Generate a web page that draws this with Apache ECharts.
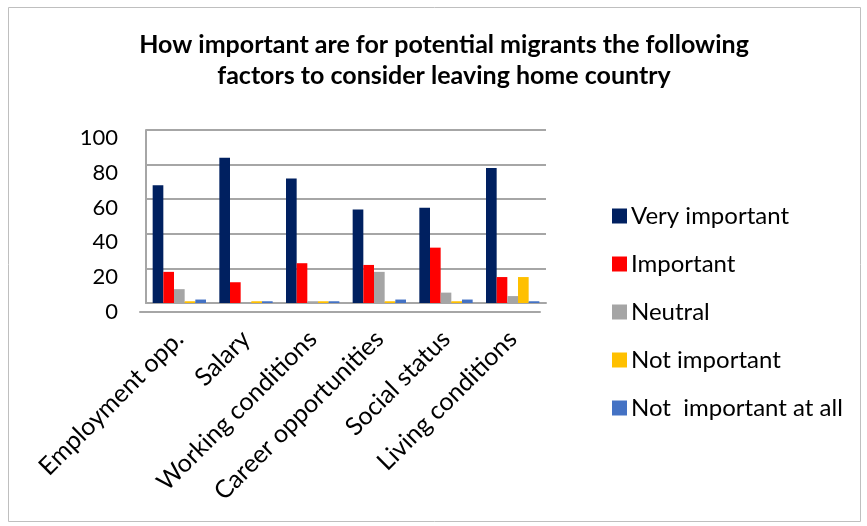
<!DOCTYPE html>
<html><head><meta charset="utf-8">
<script src="https://cdn.jsdelivr.net/npm/echarts@6/dist/echarts.min.js"></script>
<style>html,body{margin:0;padding:0;background:#fff}#c{width:867px;height:526px}</style>
</head><body><div id="c"></div>
<script>
const categories = ['Employment opp.', 'Salary', 'Working conditions', 'Career opportunities', 'Social status', 'Living conditions'];
const veryImportant = [68, 84, 72, 54, 55, 78];
const important = [18, 12, 23, 22, 32, 15];
const neutral = [8, 0.5, 1, 18, 6, 4];
const notImportant = [1, 1, 1, 1, 1, 15];
const notImportantAtAll = [2, 1, 1, 2, 2, 1];
const yTicks = [0, 20, 40, 60, 80, 100];

const seriesNames = ['Very important', 'Important', 'Neutral', 'Not important', 'Not  important at all'];
const seriesData = [veryImportant, important, neutral, notImportant, notImportantAtAll];
const colors = ['#002060', '#FF0000', '#A5A5A5', '#FFC000', '#4472C4'];
const font = 'Lato, "Open Sans", sans-serif';
const gridGray = '#A6A6A6';

const chart = echarts.init(document.getElementById('c'), null, {renderer: 'canvas'});
chart.setOption({
  animation: false,
  color: colors,
  title: {
    text: 'How important are for potential migrants the following\nfactors to consider leaving home country',
    left: 439, top: 24, textAlign: 'center',
    textStyle: {fontFamily: font, fontWeight: 'bold', fontSize: 25, lineHeight: 31, color: '#000'}
  },
  legend: {
    orient: 'vertical', left: 607, top: 198, itemGap: 22, itemWidth: 15, itemHeight: 15,
    icon: 'rect',
    textStyle: {fontFamily: font, fontSize: 24, lineHeight: 26, color: '#000', padding: [0, 0, 0, -1]},
    data: seriesNames
  },
  grid: [
    {left: 146, right: 321, top: 130, bottom: 223, containLabel: false},
    {left: 140, right: 327, top: 138, bottom: 214, containLabel: false}
  ],
  xAxis: [{
    gridIndex: 0, type: 'category', data: categories,
    axisLine: {show: true, lineStyle: {color: gridGray, width: 2}},
    axisTick: {show: false},
    axisLabel: {rotate: 45, interval: 0, margin: 32, fontFamily: font, fontSize: 25, color: '#000'}
  }, {
    gridIndex: 1, type: 'category', data: categories,
    axisLine: {show: true, lineStyle: {color: gridGray, width: 2}},
    axisTick: {show: false}, axisLabel: {show: false}
  }],
  yAxis: [{
    gridIndex: 0, type: 'value', min: 0, max: 100, interval: 20,
    axisLine: {show: true, lineStyle: {color: gridGray, width: 2}},
    axisTick: {show: false},
    splitLine: {lineStyle: {color: gridGray, width: 2}},
    axisLabel: {show: false}
  }, {
    gridIndex: 1, type: 'value', min: 0, max: 100, interval: 20,
    axisLine: {show: false}, axisTick: {show: false}, splitLine: {show: false},
    axisLabel: {margin: 22, fontFamily: font, fontSize: 22, color: '#000',
      formatter: v => yTicks.includes(v) ? String(v) : ''}
  }],
  series: seriesData.map((d, i) => ({
    name: seriesNames[i], type: 'bar', data: d, xAxisIndex: 0, yAxisIndex: 0,
    barGap: '0%', barCategoryGap: '20%',
    itemStyle: {color: colors[i]}
  })),
  graphic: [{
    type: 'rect', left: 6, top: 5, shape: {width: 852, height: 514},
    style: {fill: 'none', stroke: '#BFBFBF', lineWidth: 1}, silent: true, z: -1
  }]
});
</script></body></html>
